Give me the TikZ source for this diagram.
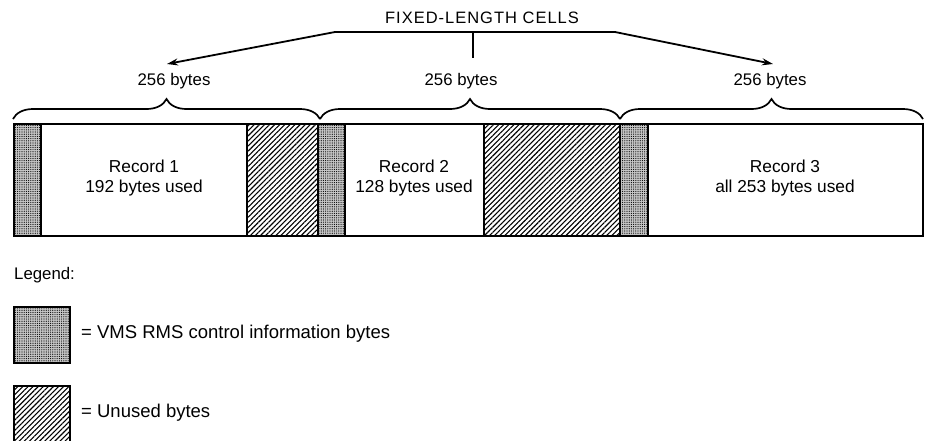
\documentclass[tikz,border=0pt]{standalone}
\usepackage{fontspec}
\setmainfont{Liberation Sans}
\usetikzlibrary{patterns.meta,decorations.pathreplacing,arrows.meta}
\begin{document}
\begin{tikzpicture}[x=1pt,y=-1pt,
  txt/.style={font=\fontsize{17.3}{20}\selectfont, inner sep=0pt, align=center},
  lbl/.style={font=\fontsize{16.8}{20}\selectfont, inner sep=0pt},
  legtxt/.style={font=\fontsize{18.5}{22}\selectfont, inner sep=0pt, anchor=west},
  ctrl/.style={draw, line width=2.2pt, preaction={fill=gray!45}, pattern={Dots[distance=2.2pt,radius=0.6pt]}},
  unused/.style={draw, line width=1.8pt, pattern={Lines[angle=45,distance=3.6pt,line width=1.1pt]}},
  bar/.style={draw, line width=2pt},
  bracestyle/.style={draw, line width=1.7pt, decorate, decoration={brace, amplitude=20pt}},
  arr/.style={draw, line width=1.8pt, -{Stealth[length=11pt,width=7pt]}},
  plain/.style={draw, line width=1.8pt}]
\useasboundingbox (0,0) rectangle (931,440);
\fill[white] (0,0) rectangle (931,440);

% record bar
\draw[bar] (14,124) rectangle (923,236);
\draw[ctrl] (14,124) rectangle (41,236);
\draw[unused] (247,124) rectangle (318,236);
\draw[ctrl] (318,124) rectangle (345,236);
\draw[unused] (484,124) rectangle (620,236);
\draw[ctrl] (620,124) rectangle (648,236);

\node[txt] (r1) at (144,178) {Record 1\\192 bytes used};
\node[txt] (r2) at (414,178) {Record 2\\128 bytes used};
\node[txt] (r3) at (785,178) {Record 3\\all 253 bytes used};

% braces
\draw[bracestyle] (13,119) -- (320,119);
\draw[bracestyle] (320,119) -- (620,119);
\draw[bracestyle] (620,119) -- (923,119);

\node[lbl] (c1) at (174,81) {256 bytes};
\node[lbl] (c2) at (461,81) {256 bytes};
\node[lbl] (c3) at (770,81) {256 bytes};

% heading
\node[inner sep=0pt, font=\addfontfeatures{LetterSpace=6}\fontsize{16.5}{18}\selectfont] (head) at (482,18) {FIXED-LENGTH CELLS};
\coordinate (hl) at (335,32);
\coordinate (hr) at (615,32);
\coordinate (hm) at (473,32);
\coordinate (ht) at (473,58);
\coordinate (a1) at (167,64);
\coordinate (a3) at (773,64);
\draw[plain] (hl) -- (hr);
\draw[plain] (hm) -- (ht);
\draw[arr] (hl) -- (a1);
\draw[arr] (hr) -- (a3);

% legend
\node[lbl, anchor=west] (leg) at (14,275) {Legend:};
\draw[ctrl] (14,307) rectangle (70,363);
\node[legtxt] (l1) at (81,334) {= VMS RMS control information bytes};
\draw[unused, line width=2.2pt] (14,386) rectangle (70,442);
\node[legtxt] (l2) at (81,413) {= Unused bytes};
\end{tikzpicture}
\end{document}
